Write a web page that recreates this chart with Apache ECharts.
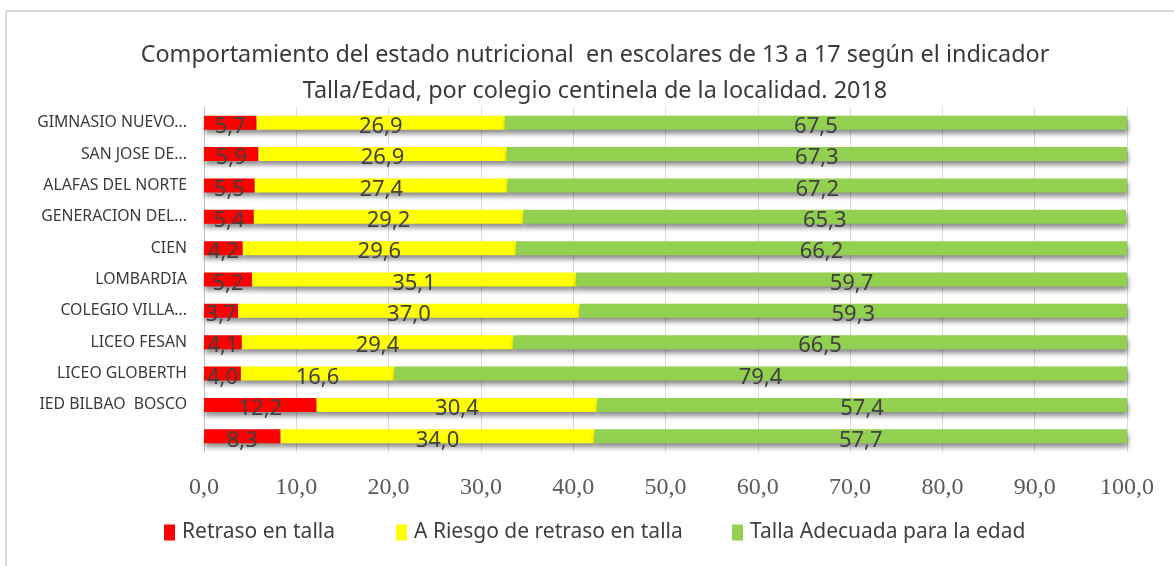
<!DOCTYPE html>
<html>
<head>
<meta charset="utf-8">
<script src="https://cdn.jsdelivr.net/npm/echarts@6/dist/echarts.min.js"></script>
<style>html,body{margin:0;padding:0;background:#fff;}#c{width:1174px;height:566px;}</style>
</head>
<body>
<div id="c"></div>
<script>
const titleText = 'Comportamiento del estado nutricional  en escolares de 13 a 17 según el indicador\nTalla/Edad, por colegio centinela de la localidad. 2018';
const categories = ['GIMNASIO NUEVO...', 'SAN JOSE DE...', 'ALAFAS DEL NORTE', 'GENERACION DEL...', 'CIEN', 'LOMBARDIA', 'COLEGIO VILLA...', 'LICEO FESAN', 'LICEO GLOBERTH', 'IED BILBAO  BOSCO', ''];
const seriesNames = ['Retraso en talla', 'A Riesgo de retraso en talla', 'Talla Adecuada para la edad'];
const retraso  = [5.7, 5.9, 5.5, 5.4, 4.2, 5.2, 3.7, 4.1, 4.0, 12.2, 8.3];
const riesgo   = [26.9, 26.9, 27.4, 29.2, 29.6, 35.1, 37.0, 29.4, 16.6, 30.4, 34.0];
const adecuada = [67.5, 67.3, 67.2, 65.3, 66.2, 59.7, 59.3, 66.5, 79.4, 57.4, 57.7];
const colors = ['#ff0000', '#ffff00', '#92d050'];

const fmt = v => Number(v).toFixed(1).replace('.', ',');
const chart = echarts.init(document.getElementById('c'), null, {renderer: 'canvas'});

function mkSeries(name, data, color) {
  return {
    name: name, type: 'bar', stack: 'total', data: data, barWidth: 14,
    itemStyle: {color: color, shadowColor: 'rgba(0,0,0,0.45)', shadowBlur: 5, shadowOffsetY: 4, shadowOffsetX: 1},
    label: {show: true, position: 'inside', offset: [0, 4], color: '#404040', fontFamily: 'Noto Sans', fontSize: 22,
      formatter: p => fmt(p.value)},
    emphasis: {disabled: true}
  };
}
const legendLeft = [164, 396, 732];

chart.setOption({
  animation: false,
  backgroundColor: '#ffffff',
  title: {
    text: titleText, left: 595, textAlign: 'center', top: 37, padding: 0,
    textStyle: {fontFamily: 'Noto Sans', fontSize: 23.4, fontWeight: 'normal', color: '#3a3a3a', lineHeight: 36}
  },
  legend: seriesNames.map((n, i) => ({
    data: [n], left: legendLeft[i], top: 522, itemWidth: 11, itemHeight: 16, itemGap: 0, padding: 0,
    icon: 'rect', textStyle: {fontFamily: 'Noto Sans', fontSize: 21, color: '#404040', padding: [0, 0, 0, 2]}
  })),
  grid: {left: 204, right: 47, top: 107, bottom: 114, containLabel: false},
  xAxis: {
    type: 'value', min: 0, max: 100, interval: 10,
    axisLine: {show: false}, axisTick: {show: false},
    splitLine: {lineStyle: {color: '#d9d9d9', width: 1}},
    axisLabel: {formatter: fmt, margin: 24, fontFamily: 'Liberation Serif', fontSize: 24, color: '#595959'}
  },
  yAxis: {
    type: 'category', data: categories, inverse: true,
    axisLine: {show: true, lineStyle: {color: '#bfbfbf'}}, axisTick: {show: false},
    axisLabel: {margin: 17, fontFamily: 'Noto Sans', fontSize: 15.8, color: '#3a3a3a'}
  },
  graphic: [
    {type: 'line', shape: {x1: 6, y1: 11, x2: 1174, y2: 11}, style: {stroke: '#d9d9d9', lineWidth: 2}},
    {type: 'line', shape: {x1: 6, y1: 11, x2: 6, y2: 566}, style: {stroke: '#d9d9d9', lineWidth: 2}}
  ],
  series: [
    mkSeries(seriesNames[0], retraso, colors[0]),
    mkSeries(seriesNames[1], riesgo, colors[1]),
    mkSeries(seriesNames[2], adecuada, colors[2])
  ]
});
</script>
</body>
</html>
